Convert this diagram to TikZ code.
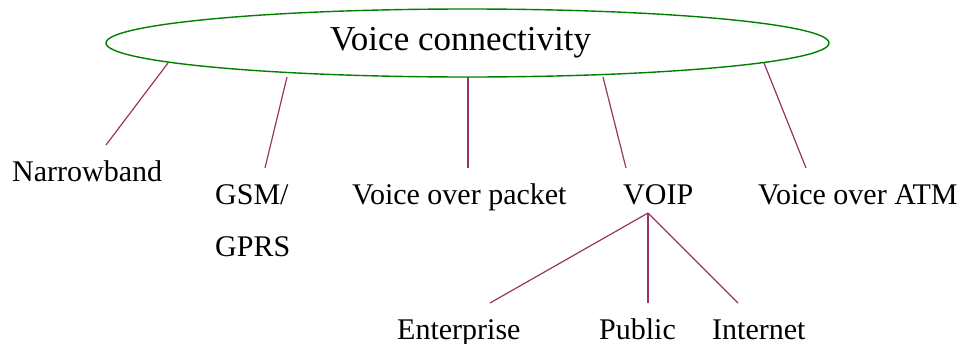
\documentclass[tikz,border=0pt]{standalone}
\usepackage{fontspec}
\setmainfont{Liberation Serif}
\usetikzlibrary{shapes.geometric}
\definecolor{rootgreen}{HTML}{008000}
\definecolor{linkpurple}{HTML}{993366}
\begin{document}
\begin{tikzpicture}[x=1pt,y=-1pt,
  rootshape/.style={draw=rootgreen, line width=1.4pt, ellipse, inner sep=0pt,
    minimum width=723pt, minimum height=68pt},
  titletext/.style={anchor=base west, inner sep=0pt, font=\fontsize{35}{40}\selectfont},
  leaftext/.style={anchor=base west, inner sep=0pt, font=\fontsize{30}{36}\selectfont},
  link/.style={draw=linkpurple, line width=1.2pt}]
\useasboundingbox (0,0) rectangle (968,343);

% top-level ellipse and its caption
\node[rootshape] (root) at (467.5,43) {};
\node[titletext] (title) at (330,50) {Voice connectivity};

% first-level categories
\node[leaftext] (narrow) at (12,181) {Narrowband};
\node[leaftext] (gsm) at (215,204) {GSM/};
\node[leaftext] (gprs) at (215,256) {GPRS};
\node[leaftext] (vop) at (352,204) {Voice over packet};
\node[leaftext] (voip) at (623,204) {VOIP};
\node[leaftext] (atm) at (758,204) {Voice over ATM};

% VOIP sub-categories
\node[leaftext] (ent) at (397,339) {Enterprise};
\node[leaftext] (pub) at (599,339) {Public};
\node[leaftext] (inet) at (712,339) {Internet};

% connector end points
\coordinate (r1) at (168,63);   \coordinate (n1) at (106,145);
\coordinate (r2) at (287,77);   \coordinate (n2) at (265,168);
\coordinate (r3) at (468,77);   \coordinate (n3) at (468,168);
\coordinate (r4) at (603,77);   \coordinate (n4) at (626,168);
\coordinate (r5) at (764,63);   \coordinate (n5) at (806,168);
\coordinate (vb) at (648,213);
\coordinate (e1) at (490,303);
\coordinate (p1) at (648,303);
\coordinate (i1) at (738,303);

\draw[link] (r1) -- (n1);
\draw[link] (r2) -- (n2);
\draw[link] (r3) -- (n3);
\draw[link] (r4) -- (n4);
\draw[link] (r5) -- (n5);
\draw[link] (vb) -- (e1);
\draw[link] (vb) -- (p1);
\draw[link] (vb) -- (i1);
\end{tikzpicture}
\end{document}
